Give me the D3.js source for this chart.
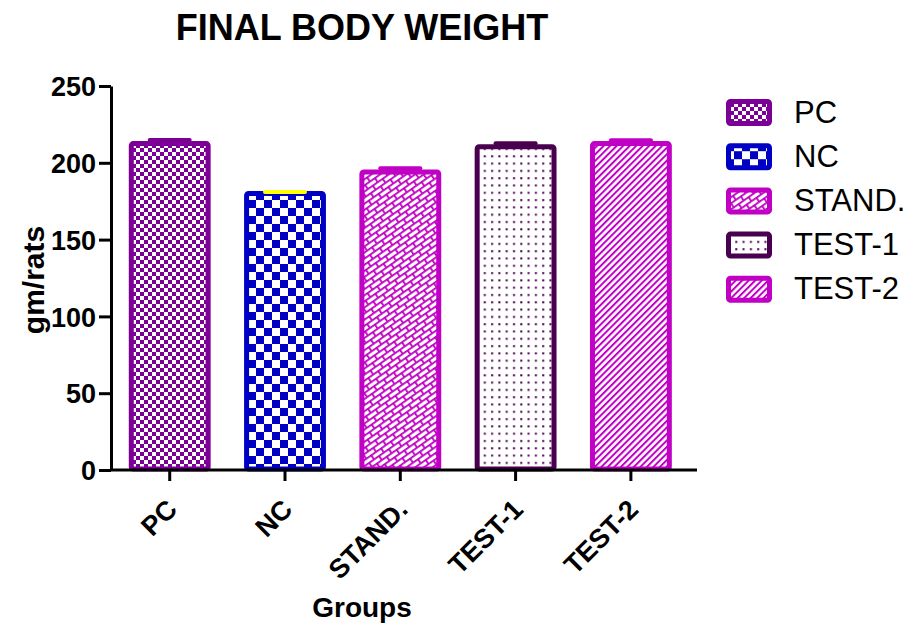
<!DOCTYPE html>
<html>
<head>
<meta charset="utf-8">
<script src="https://cdn.jsdelivr.net/npm/d3@7"></script>
<style>
  body { margin: 0; background: #fff; }
  svg { font-family: Arial, "Liberation Sans", sans-serif; }
</style>
</head>
<body>
<div id="chart"></div>
<script>
// data
const groups = ["PC", "NC", "STAND.", "TEST-1", "TEST-2"];
const means = [212.5, 180, 194, 210.5, 212.5];
const errs = [2.3, 1, 2.5, 2.2, 2.2];
const yTicks = [0, 50, 100, 150, 200, 250];

// look
const barColors = ["#7d0096", "#0000c4", "#c000c4", "#48004f", "#c000c4"];
const capColors = ["#7d0096", "#ffff00", "#c000c4", "#48004f", "#c000c4"];
const patternIds = ["pc-pat", "nc-pat", "stand-pat", "t1-pat", "t2-pat"];

(() => {
  const width = 906, height = 626;
  const font = "Arial, 'Liberation Sans', sans-serif";

  const svg = d3.select("#chart").append("svg")
    .attr("width", width)
    .attr("height", height);

  const defs = svg.append("defs");

  // small checker
  const pc = defs.append("pattern").attr("id", "pc-pat")
    .attr("patternUnits", "userSpaceOnUse").attr("width", 8).attr("height", 8);
  pc.append("rect").attr("width", 8).attr("height", 8).attr("fill", "#fff");
  pc.append("rect").attr("width", 4).attr("height", 4).attr("fill", barColors[0]);
  pc.append("rect").attr("x", 4).attr("y", 4).attr("width", 4).attr("height", 4).attr("fill", barColors[0]);

  // big checker
  const nc = defs.append("pattern").attr("id", "nc-pat")
    .attr("patternUnits", "userSpaceOnUse").attr("width", 16).attr("height", 16);
  nc.append("rect").attr("width", 16).attr("height", 16).attr("fill", "#fff");
  nc.append("rect").attr("width", 8).attr("height", 8).attr("fill", barColors[1]);
  nc.append("rect").attr("x", 8).attr("y", 8).attr("width", 8).attr("height", 8).attr("fill", barColors[1]);

  // brick weave (two staggered rows, tilted up-right)
  const st = defs.append("pattern").attr("id", "stand-pat")
    .attr("patternUnits", "userSpaceOnUse").attr("width", 12).attr("height", 10)
    .attr("patternTransform", "rotate(-35)");
  st.append("rect").attr("width", 12).attr("height", 10).attr("fill", "#fff");
  st.append("rect").attr("y", 0).attr("width", 12).attr("height", 1.8).attr("fill", barColors[2]);
  st.append("rect").attr("y", 5).attr("width", 12).attr("height", 1.8).attr("fill", barColors[2]);
  st.append("rect").attr("x", 0).attr("y", 0).attr("width", 1.8).attr("height", 5).attr("fill", barColors[2]);
  st.append("rect").attr("x", 6).attr("y", 5).attr("width", 1.8).attr("height", 5).attr("fill", barColors[2]);

  // dots
  const t1 = defs.append("pattern").attr("id", "t1-pat")
    .attr("patternUnits", "userSpaceOnUse").attr("width", 7.3).attr("height", 7.3);
  t1.append("rect").attr("width", 7.3).attr("height", 7.3).attr("fill", "#fff");
  t1.append("rect").attr("x", 2).attr("y", 2).attr("width", 2).attr("height", 2).attr("fill", barColors[3]);

  // diagonal lines
  const t2 = defs.append("pattern").attr("id", "t2-pat")
    .attr("patternUnits", "userSpaceOnUse").attr("width", 4.6).attr("height", 4.6)
    .attr("patternTransform", "rotate(45)");
  t2.append("rect").attr("width", 4.6).attr("height", 4.6).attr("fill", "#fff");
  t2.append("rect").attr("width", 2).attr("height", 4.6).attr("fill", barColors[4]);

  const x = d3.scaleBand()
    .domain(groups)
    .range([112, 697])
    .paddingInner(0.29)
    .paddingOuter(0.182)
    .align(0.4);

  const y = d3.scaleLinear()
    .domain([0, 250])
    .range([470, 86]);

  // bars
  const sw = 5;
  svg.append("g").selectAll("rect")
    .data(groups)
    .join("rect")
    .attr("x", d => x(d) + sw / 2)
    .attr("y", (d, i) => y(means[i]))
    .attr("width", x.bandwidth() - sw)
    .attr("height", (d, i) => y(0) - y(means[i]) - 1)
    .attr("rx", 2)
    .attr("fill", (d, i) => `url(#${patternIds[i]})`)
    .attr("stroke", (d, i) => barColors[i])
    .attr("stroke-width", sw);

  // error caps (upper only)
  svg.append("g").selectAll("line")
    .data(groups)
    .join("line")
    .attr("x1", d => x(d) + x.bandwidth() / 2 - 20)
    .attr("x2", d => x(d) + x.bandwidth() / 2 + 20)
    .attr("y1", (d, i) => y(means[i] + errs[i]))
    .attr("y2", (d, i) => y(means[i] + errs[i]))
    .attr("stroke", (d, i) => capColors[i])
    .attr("stroke-width", 4)
    .attr("stroke-linecap", "round");

  // y axis
  const yAxis = svg.append("g")
    .attr("transform", "translate(111,0)")
    .call(d3.axisLeft(y).tickValues(yTicks).tickSize(12).tickSizeOuter(0).tickPadding(3));
  yAxis.select(".domain").attr("stroke-width", 3).attr("stroke", "#000");
  yAxis.selectAll(".tick line").attr("stroke-width", 3).attr("stroke", "#000");
  yAxis.selectAll(".tick text")
    .attr("font-size", 27).attr("font-weight", "bold").attr("fill", "#000")
    .attr("font-family", font)
    .attr("dy", "0.36em");

  // x axis
  const xAxis = svg.append("g")
    .attr("transform", "translate(0,470)")
    .call(d3.axisBottom(x).tickSize(11).tickSizeOuter(0));
  xAxis.select(".domain").attr("stroke-width", 3).attr("stroke", "#000")
    .attr("d", "M110,0H697");
  xAxis.selectAll(".tick line").attr("stroke-width", 3).attr("stroke", "#000");
  xAxis.selectAll(".tick text")
    .attr("font-size", 27).attr("font-weight", "bold").attr("fill", "#000")
    .attr("font-family", font)
    .attr("text-anchor", "end")
    .attr("dy", null)
    .attr("y", 0)
    .attr("transform", "translate(9,41) rotate(-45)");

  // titles
  svg.append("text")
    .attr("x", 362).attr("y", 40)
    .attr("text-anchor", "middle")
    .attr("font-size", 36).attr("font-weight", "bold")
    .text("FINAL BODY WEIGHT");

  svg.append("text")
    .attr("x", 362).attr("y", 617)
    .attr("text-anchor", "middle")
    .attr("font-size", 28).attr("font-weight", "bold")
    .text("Groups");

  svg.append("text")
    .attr("transform", "translate(44,280) rotate(-90)")
    .attr("text-anchor", "middle")
    .attr("font-size", 30).attr("font-weight", "bold")
    .text("gm/rats");

  // legend
  const legend = svg.append("g").attr("transform", "translate(726,99)");
  const rows = legend.selectAll("g")
    .data(groups)
    .join("g")
    .attr("transform", (d, i) => `translate(0,${i * 44.2})`);

  rows.append("rect")
    .attr("x", 2.5).attr("y", 2.5)
    .attr("width", 41).attr("height", 22)
    .attr("rx", 2)
    .attr("fill", (d, i) => `url(#${patternIds[i]})`)
    .attr("stroke", (d, i) => barColors[i])
    .attr("stroke-width", sw);

  rows.append("text")
    .attr("x", 68).attr("y", 23.5)
    .attr("font-size", 31)
    .text(d => d);
})();
</script>
</body>
</html>
